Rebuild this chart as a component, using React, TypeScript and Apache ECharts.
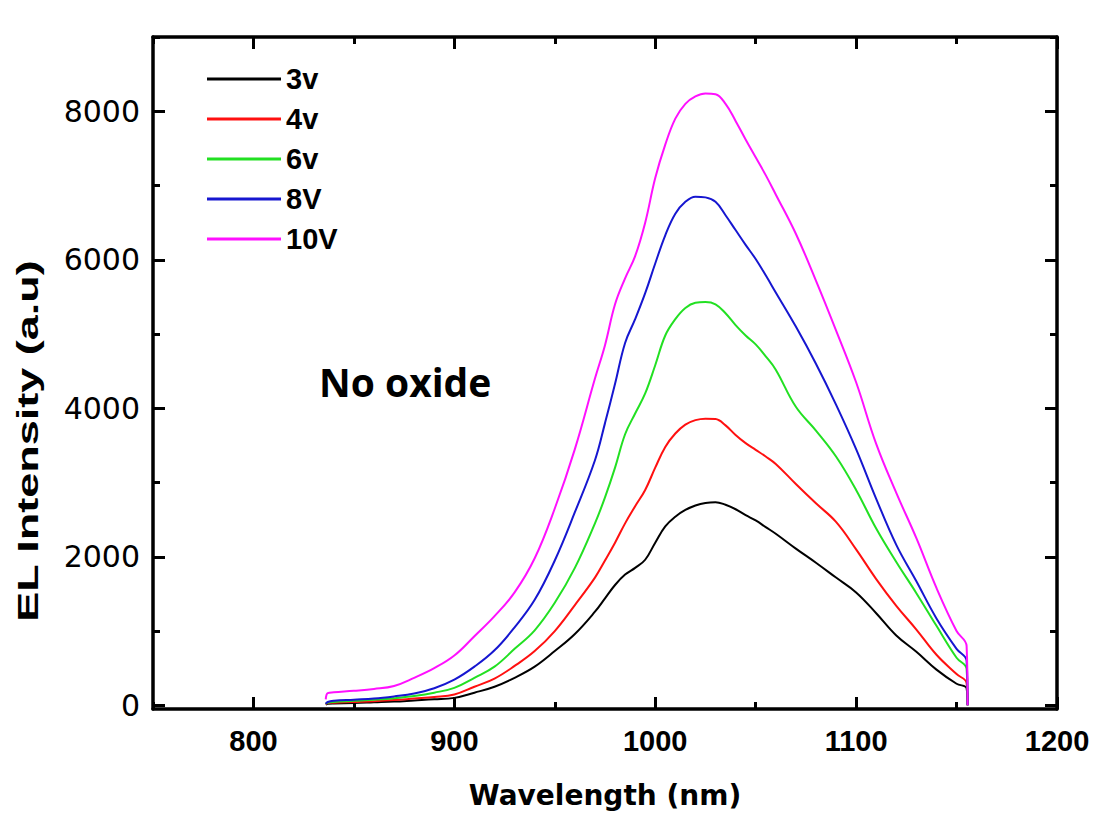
import React, { useEffect, useRef } from "react";
import * as echarts from "echarts";

// Wavelength samples (nm)
const wavelength = [
  836, 837, 840, 850, 860, 870, 880, 890, 900, 910, 920, 930, 940, 950, 960, 970, 975, 980, 985, 990,
  995, 1000, 1005, 1010, 1015, 1020, 1025, 1030, 1035, 1040, 1045, 1050, 1055, 1060, 1070, 1080, 1090,
  1100, 1110, 1120, 1130, 1140, 1150, 1155, 1155.5,
];

// EL intensity (a.u) per drive voltage
const el3v = [
  10, 20, 25, 30, 40, 50, 65, 80, 100, 170, 250, 370, 520, 730, 960, 1260, 1440, 1620, 1760, 1850,
  1960, 2190, 2410, 2540, 2630, 2690, 2725, 2735, 2700, 2640, 2560, 2490, 2400, 2310, 2110, 1920, 1720,
  1520, 1240, 940, 720, 480, 290, 230, 0,
];
const el4v = [
  15, 30, 35, 45, 55, 70, 90, 110, 145, 250, 360, 530, 730, 1000, 1350, 1720, 1950, 2190, 2450, 2680,
  2900, 3200, 3480, 3660, 3780, 3840, 3860, 3855, 3770, 3640, 3530, 3440, 3350, 3250, 2980, 2720, 2470,
  2100, 1700, 1340, 1020, 680, 420, 300, 0,
];
const el6v = [
  20, 35, 45, 60, 75, 95, 125, 170, 235, 370, 520, 760, 1010, 1380, 1850, 2450, 2800, 3200, 3650, 3930,
  4200, 4580, 4980, 5200, 5350, 5420, 5430, 5400, 5280, 5120, 4980, 4860, 4700, 4520, 4020, 3700, 3350,
  2900, 2380, 1930, 1510, 1070, 640, 490, 0,
];
const el8v = [
  20, 45, 60, 75, 90, 120, 160, 230, 345, 520, 740, 1050, 1420, 1950, 2600, 3300, 3800, 4330, 4880, 5200,
  5550, 5950, 6330, 6620, 6780, 6850, 6840, 6780, 6600, 6400, 6200, 6010, 5790, 5560, 5100, 4600, 4050,
  3450, 2780, 2160, 1670, 1170, 760, 600, 0,
];
const el10v = [
  80, 165, 175, 195, 220, 260, 370, 500, 670, 930, 1200, 1520, 1980, 2650, 3450, 4400, 4850, 5400, 5750, 6050,
  6500, 7100, 7550, 7900, 8100, 8200, 8240, 8230, 8100, 7870, 7620, 7380, 7140, 6880, 6350, 5720, 5050,
  4350, 3520, 2860, 2250, 1580, 1000, 800, 0,
];

const seriesNames = ["3v", "4v", "6v", "8V", "10V"];
const seriesValues = [el3v, el4v, el6v, el8v, el10v];
const seriesColors = ["#000000", "#ff1010", "#22e022", "#1616d0", "#ff10ff"];

const xMajorTicks = [800, 900, 1000, 1100, 1200];
const xMinorTicks = [750, 850, 950, 1050, 1150];
const yMajorTicks = [0, 2000, 4000, 6000, 8000];
const yMinorTicks = [1000, 3000, 5000, 7000, 9000];
const xRange = [750, 1200];
const yRange = [-50, 9000];

const AXIS_W = 3.5;
const TICK_W = 3;
const plain = (v: number) => String(v);

function makeX(position: string, major: boolean, withLabels: boolean, extra: any = {}) {
  return {
    type: "value",
    position,
    min: xRange[0],
    max: xRange[1],
    axisLine: { show: major, onZero: false, lineStyle: { color: "#000", width: AXIS_W } },
    axisTick: {
      show: true,
      inside: true,
      length: major ? 12 : 7,
      lineStyle: { color: "#000", width: TICK_W },
      customValues: major ? xMajorTicks : xMinorTicks,
    },
    axisLabel: withLabels
      ? {
          show: true,
          customValues: xMajorTicks,
          formatter: plain,
          margin: 17,
          color: "#000",
          fontFamily: "Liberation Sans",
          fontWeight: "bold",
          fontSize: 29,
        }
      : { show: false },
    splitLine: { show: false },
    ...extra,
  };
}

function makeY(position: string, major: boolean, withLabels: boolean) {
  return {
    type: "value",
    position,
    min: yRange[0],
    max: yRange[1],
    axisLine: { show: major, onZero: false, lineStyle: { color: "#000", width: AXIS_W } },
    axisTick: {
      show: true,
      inside: true,
      length: major ? 12 : 7,
      lineStyle: { color: "#000", width: TICK_W },
      customValues: major ? yMajorTicks : yMinorTicks,
    },
    axisLabel: withLabels
      ? {
          show: true,
          customValues: yMajorTicks,
          formatter: plain,
          margin: 13,
          color: "#000",
          fontFamily: "DejaVu Sans",
          fontSize: 30,
        }
      : { show: false },
    splitLine: { show: false },
  };
}

export default function App() {
  const ref = useRef<HTMLDivElement>(null);

  useEffect(() => {
    if (!ref.current) return;
    const chart = echarts.init(ref.current, undefined, { renderer: "svg" });

    const series = seriesNames.map((name, i) => ({
      name,
      type: "line",
      xAxisIndex: 0,
      yAxisIndex: 0,
      data: wavelength.map((w, j) => [w, seriesValues[i][j]]),
      showSymbol: false,
      symbol: "none",
      smooth: 0.4,
      color: seriesColors[i],
      lineStyle: { color: seriesColors[i], width: 2 },
      clip: true,
    }));

    chart.setOption({
      animation: false,
      backgroundColor: "#ffffff",
      grid: { left: 153, right: 44, top: 37, bottom: 111, containLabel: false },
      legend: {
        orient: "vertical",
        left: 207,
        top: 64,
        padding: 0,
        itemWidth: 74,
        itemHeight: 3,
        itemGap: 10,
        icon: "rect",
        data: seriesNames,
        textStyle: {
          color: "#000",
          fontFamily: "Liberation Sans",
          fontWeight: "bold",
          fontSize: 29,
          lineHeight: 30,
        },
      },
      xAxis: [
        makeX("bottom", true, true, {
          name: "Wavelength (nm)",
          nameLocation: "middle",
          nameGap: 72,
          nameTextStyle: {
            color: "#000",
            fontFamily: "DejaVu Sans",
            fontWeight: "bold",
            fontSize: 28,
          },
        }),
        makeX("bottom", false, false),
        makeX("top", true, false),
        makeX("top", false, false),
      ],
      yAxis: [
        makeY("left", true, true),
        makeY("left", false, false),
        makeY("right", true, false),
        makeY("right", false, false),
      ],
      graphic: [
        {
          type: "text",
          x: 27,
          y: 441,
          rotation: Math.PI / 2,
          scaleX: 1.5,
          style: {
            text: "EL Intensity (a.u)",
            fill: "#000",
            font: 'bold 30px "Liberation Sans"',
            textAlign: "center",
            textVerticalAlign: "middle",
            align: "center",
            verticalAlign: "middle",
          },
        },
        {
          type: "text",
          x: 319,
          y: 381,
          style: {
            text: "No oxide",
            fill: "#000",
            font: 'bold 39px "Open Sans"',
            textAlign: "left",
            textVerticalAlign: "middle",
            align: "left",
            verticalAlign: "middle",
          },
        },
      ],
      series,
    });

    return () => chart.dispose();
  }, []);

  return (
    <div
      ref={ref}
      style={{ position: "absolute", left: 0, top: 0, width: 1101, height: 820, background: "#fff" }}
    />
  );
}
